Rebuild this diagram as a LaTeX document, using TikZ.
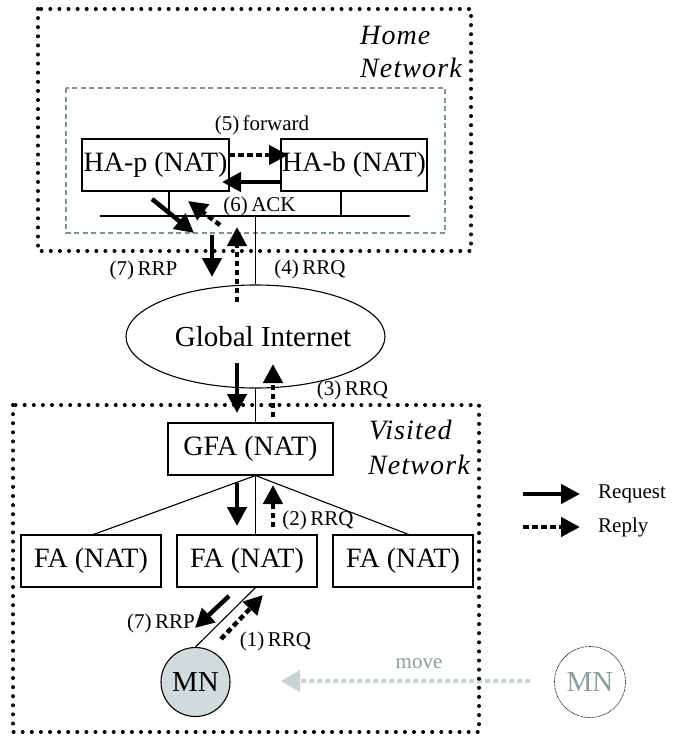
\documentclass[tikz,border=0pt]{standalone}
\usepackage{fontspec}
\setmainfont{Liberation Serif}
\usetikzlibrary{arrows.meta,shapes.geometric}
\definecolor{netgray}{RGB}{125,148,148}
\definecolor{movegray}{RGB}{200,211,211}
\definecolor{mntext}{RGB}{138,158,158}
\definecolor{mnfill}{RGB}{209,219,219}

\begin{document}
\begin{tikzpicture}[x=1pt,y=-1pt,
  box/.style={draw, line width=1.1pt, inner sep=0pt, minimum height=52pt,
    font=\fontsize{28}{30}\selectfont},
  lbl/.style={font=\fontsize{21}{23}\selectfont, inner sep=0pt},
  netlbl/.style={font=\fontsize{28}{30}\selectfont\itshape\addfontfeatures{LetterSpace=4},
    anchor=west, inner sep=0pt},
  wire/.style={line width=1.1pt},
  req/.style={line width=4.5pt, -{Triangle[length=19pt,width=19pt]}},
  rep/.style={line width=4.5pt, dash pattern=on 5.5pt off 3.5pt,
    -{Triangle[length=19pt,width=19pt]}},
  netbox/.style={line width=4pt, line cap=round, dash pattern=on 0pt off 9.1pt},
]
\useasboundingbox (0,0) rectangle (672,736);

% ---------- home network ----------
\draw[netgray, line width=1.3pt, dash pattern=on 5pt off 3.5pt] (66,88) rectangle (445,233);
\node[box, minimum width=147pt] (hap) at (155.5,165) {HA-p (NAT)};
\node[box, minimum width=146pt] (hab) at (354,165) {HA-b (NAT)};
\coordinate (busL) at (100,216);
\coordinate (busR) at (410,216);
\coordinate (hapdrop) at (169,216);
\coordinate (habdrop) at (341,216);
\coordinate (busout) at (255.5,216);
\draw[wire] (busL) -- (busR);
\draw[wire] (hapdrop |- hap.south) -- (hapdrop);
\draw[wire] (habdrop |- hab.south) -- (habdrop);

% ---------- global internet ----------
\node[draw, ellipse, wire, minimum width=259pt, minimum height=103pt, inner sep=0pt] (inet) at (255.5,336.5) {};
\node[font=\fontsize{29}{31}\selectfont, inner sep=0pt] (inettxt) at (263,337) {Global Internet};
\draw[wire] (busout) -- (inet.north);

% ---------- visited network ----------
\node[box, minimum width=165pt] (gfa) at (250.5,449) {GFA (NAT)};
\node[box, minimum width=140pt] (fa1) at (91,561) {FA (NAT)};
\node[box, minimum width=140pt] (fa2) at (247,561) {FA (NAT)};
\node[box, minimum width=140pt] (fa3) at (403,561) {FA (NAT)};
\coordinate (gfatop) at (inet.south |- gfa.north);
\coordinate (gfabot) at (inet.south |- gfa.south);
\coordinate (fa1top) at (92,535);
\coordinate (fa2top) at (inet.south |- fa2.north);
\coordinate (fa3top) at (410,535);
\coordinate (fa2bot) at (inet.south |- fa2.south);
\draw[wire] (inet.south) -- (gfatop);
\draw[wire] (gfabot) -- (fa1top);
\draw[wire] (gfabot) -- (fa2top);
\draw[wire] (gfabot) -- (fa3top);

\node[circle, draw, wire, fill=mnfill, minimum size=69pt, inner sep=0pt,
  font=\fontsize{29}{31}\selectfont] (mn) at (195.5,682) {MN};
\draw[wire] (fa2bot) -- (mn.north);
\node[circle, draw, line width=0.7pt, dash pattern=on 0.7pt off 0.7pt, minimum size=71pt,
  inner sep=0pt, text=mntext, font=\fontsize{29}{31}\selectfont] (mnold) at (590,682) {MN};

% movement of the mobile node
\coordinate (mvfrom) at (530,681);
\coordinate (mvto) at (281,681);
\draw[movegray, line width=4pt, dash pattern=on 5pt off 3pt,
  -{Triangle[length=19pt,width=21pt]}] (mvfrom) -- (mvto);
\node[lbl, text=mntext] (movelbl) at (419,664) {move};

% ---------- dotted network borders ----------
\draw[netbox] (38,9) rectangle (471,251);
\draw[netbox] (13,405) rectangle (479,732);
\node[netlbl] (home1) at (360,35) {Home};
\node[netlbl] (home2) at (360,68) {Network};
\node[netlbl] (vis1) at (369,430) {Visited};
\node[netlbl] (vis2) at (368,465) {Network};

% ---------- message arrows ----------
\coordinate (a5s) at (229,155);   \coordinate (a5e) at (288,155);
\coordinate (b5s) at (281,182);   \coordinate (b5e) at (222,182);
\coordinate (a6s) at (152,199);   \coordinate (a6e) at (194,233);
\coordinate (b6s) at (220,225);   \coordinate (b6e) at (188,201);
\coordinate (a7s) at (212,235);   \coordinate (a7e) at (212,277);
\coordinate (b4s) at (237,302);   \coordinate (b4e) at (237,227);
\coordinate (a3s) at (237,363);   \coordinate (a3e) at (237,413);
\coordinate (b3s) at (273,417);   \coordinate (b3e) at (273,364);
\coordinate (a2s) at (237,483);   \coordinate (a2e) at (237,526);
\coordinate (b2s) at (273,527);   \coordinate (b2e) at (273,485);
\coordinate (a1s) at (229,596);   \coordinate (a1e) at (195,628);
\coordinate (b1s) at (221,639);   \coordinate (b1e) at (263,595);
\draw[rep] (a5s) -- (a5e);
\draw[req] (b5s) -- (b5e);
\draw[req] (a6s) -- (a6e);
\draw[rep] (b6s) -- (b6e);
\draw[req] (a7s) -- (a7e);
\draw[rep] (b4s) -- (b4e);
\draw[req] (a3s) -- (a3e);
\draw[rep] (b3s) -- (b3e);
\draw[req] (a2s) -- (a2e);
\draw[rep] (b2s) -- (b2e);
\draw[req] (a1s) -- (a1e);
\draw[rep] (b1s) -- (b1e);

% ---------- message labels ----------
\node[lbl] (l5) at (262,125) {(5)\,forward};
\node[lbl] (l6) at (259.5,206) {(6)\,ACK};
\node[lbl] (l7a) at (143.5,270) {(7)\,RRP};
\node[lbl] (l4) at (310,269) {(4)\,RRQ};
\node[lbl] (l3) at (352.5,390) {(3)\,RRQ};
\node[lbl] (l2) at (318,520) {(2)\,RRQ};
\node[lbl] (l7b) at (161,623) {(7)\,RRP};
\node[lbl] (l1) at (275.5,641) {(1)\,RRQ};

% ---------- legend ----------
\coordinate (lgqs) at (523,494); \coordinate (lgqe) at (580,494);
\coordinate (lgps) at (523,527); \coordinate (lgpe) at (580,527);
\draw[req] (lgqs) -- (lgqe);
\draw[rep] (lgps) -- (lgpe);
\node[lbl, anchor=west] (lgq) at (598,494) {Request};
\node[lbl, anchor=west] (lgp) at (598,527) {Reply};
\end{tikzpicture}
\end{document}
